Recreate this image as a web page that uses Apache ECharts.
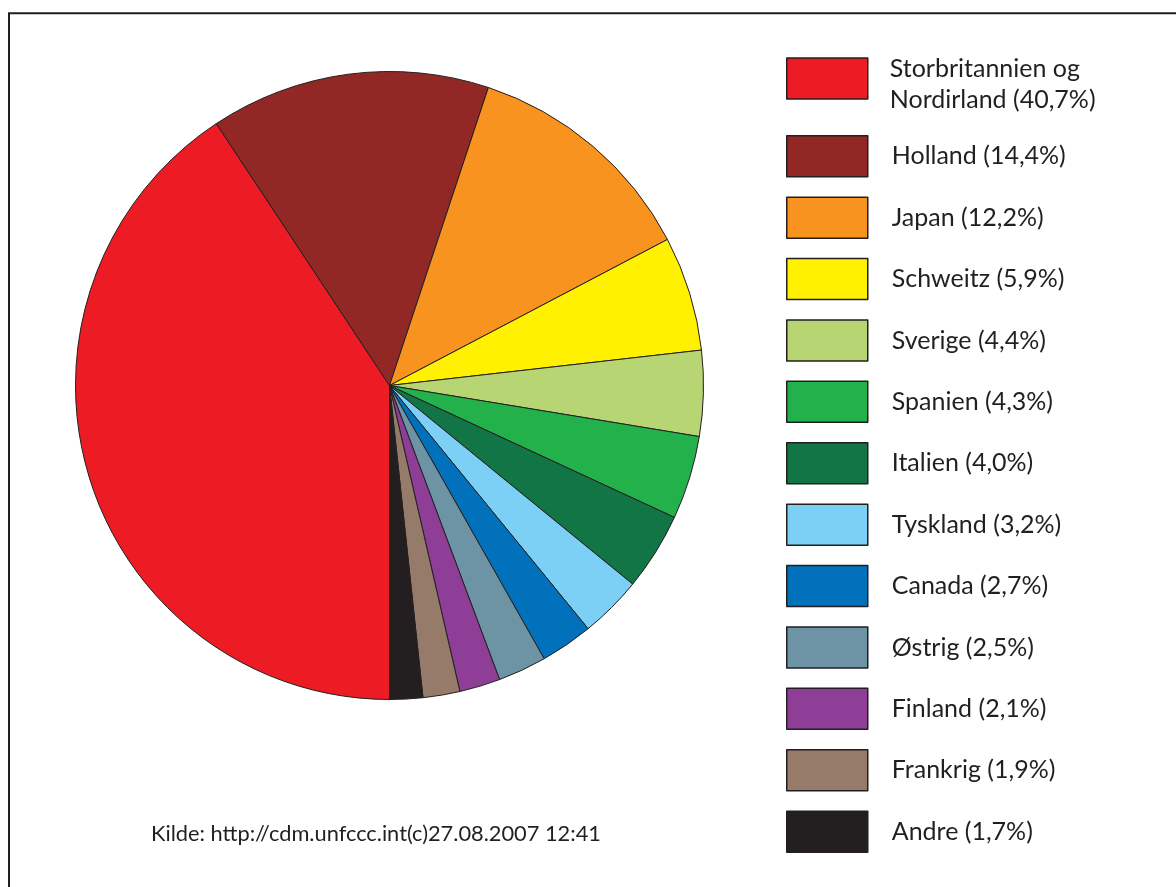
<!DOCTYPE html>
<html>
<head>
<meta charset="utf-8">
<script src="https://cdn.jsdelivr.net/npm/echarts@6/dist/echarts.min.js"></script>
<style>
  html, body { margin: 0; padding: 0; background: #ffffff; }
  #chart { width: 1176px; height: 887px; }
</style>
</head>
<body>
<div id="chart"></div>
<script>
// CDM project shares by investor country
const countries = [
  'Storbritannien og Nordirland', 'Holland', 'Japan', 'Schweitz', 'Sverige',
  'Spanien', 'Italien', 'Tyskland', 'Canada', 'Østrig', 'Finland', 'Frankrig', 'Andre'
];
const shares = [40.7, 14.4, 12.2, 5.9, 4.4, 4.3, 4.0, 3.2, 2.7, 2.5, 2.1, 1.9, 1.7];
const colors = [
  '#ed1c24', '#922825', '#f7931e', '#fff100', '#b7d572',
  '#22b14b', '#127545', '#7cd0f5', '#0171bb', '#6d94a5', '#8e3e97', '#967b6a', '#231f20'
];
const sourceNote = 'Kilde: http://cdm.unfccc.int(c)27.08.2007 12:41';

const ink = '#231f20';
const fontFamily = 'Lato, "Open Sans", sans-serif';

function pct(v) { return v.toFixed(1).replace('.', ',') + '%'; }
function legendLabel(name) {
  const v = shares[countries.indexOf(name)];
  return name + ' (' + pct(v) + ')';
}
// long names wrap after "og", each line as a rich-text run
function wrappedLabel(name) {
  return legendLabel(name).split(' og ').map((s, i, a) => '{t|' + s + (i < a.length - 1 ? ' og' : '') + '}').join('\n');
}

const legendBase = {
  orient: 'vertical',
  left: 786,
  padding: 0,
  icon: 'rect',
  itemWidth: 81,
  itemHeight: 41,
  selectedMode: false,
  formatter: legendLabel,
  itemStyle: { borderColor: ink, borderWidth: 1.5 },
  textStyle: { color: ink, fontFamily: fontFamily, fontSize: 25, lineHeight: 28, padding: [0, 0, 0, 19] }
};

const chart = echarts.init(document.getElementById('chart'), null, { renderer: 'canvas' });
chart.setOption({
  animation: false,
  backgroundColor: '#ffffff',
  title: {
    text: sourceNote,
    left: 151,
    top: 823,
    padding: 0,
    textStyle: { color: ink, fontFamily: fontFamily, fontSize: 21.8, fontWeight: 'normal' }
  },
  legend: [
    Object.assign({}, legendBase, {
      top: 42,
      data: countries.slice(0, 1),
      formatter: wrappedLabel,
      textStyle: Object.assign({}, legendBase.textStyle, {
        padding: [11, 0, 0, 17],
        rich: { t: { color: ink, fontFamily: fontFamily, fontSize: 25, lineHeight: 31 } }
      })
    }),
    Object.assign({}, legendBase, {
      top: 135,
      itemGap: 18.9,
      data: countries.slice(1)
    })
  ],
  graphic: [{
    type: 'rect',
    z: -1,
    silent: true,
    shape: { x: 9, y: 13.3, width: 1300, height: 1000 },
    style: { fill: null, stroke: ink, lineWidth: 2 }
  }],
  series: [{
    type: 'pie',
    center: [389.5, 385.5],
    radius: 314,
    startAngle: 270,
    clockwise: true,
    label: { show: false },
    labelLine: { show: false },
    emphasis: { disabled: true },
    itemStyle: { borderColor: ink, borderWidth: 1 },
    data: countries.map((c, i) => ({ name: c, value: shares[i], itemStyle: { color: colors[i] } }))
  }]
});
</script>
</body>
</html>
